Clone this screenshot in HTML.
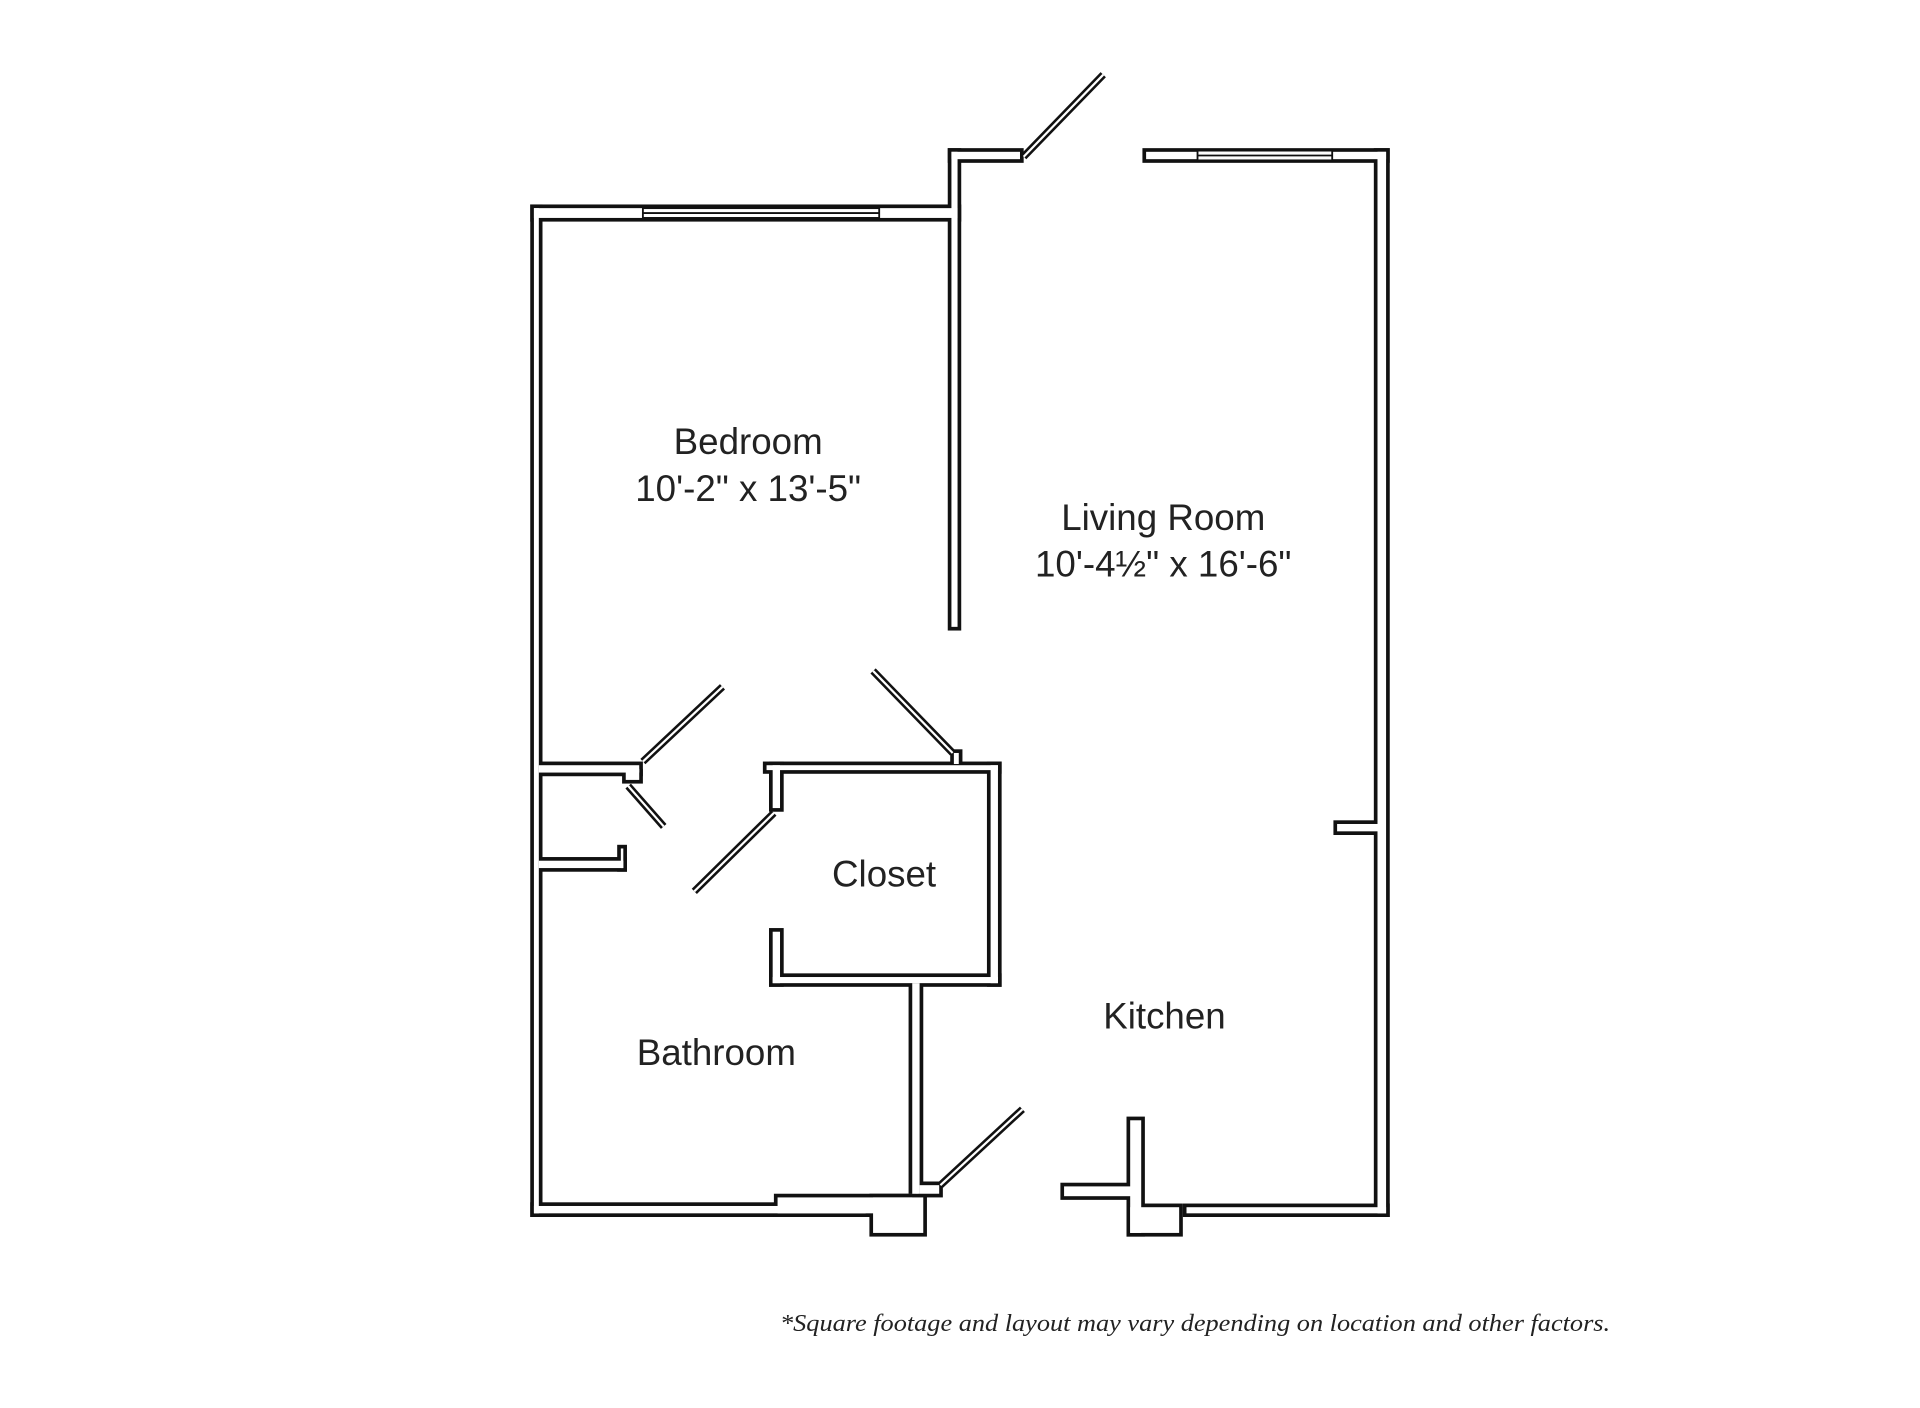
<!DOCTYPE html>
<html><head><meta charset="utf-8"><style>
html,body{margin:0;padding:0;background:#fff;}
svg{display:block;}
text{font-family:"Liberation Sans Narrow","Liberation Sans",sans-serif;fill:#222;}
</style></head><body>
<svg width="1920" height="1408" viewBox="0 0 1568 1150" xmlns="http://www.w3.org/2000/svg">
<rect width="1568" height="1150" fill="#fff"/>
<defs>
<g id="doors">
<line x1="525" y1="622" x2="590" y2="561"/>
<line x1="513" y1="642" x2="542" y2="675"/>
<line x1="567" y1="728" x2="632" y2="664"/>
<line x1="713" y1="548" x2="778" y2="615"/>
<line x1="768" y1="968" x2="835" y2="906"/>
<line x1="836" y1="128" x2="901" y2="61"/>
</g>
</defs>
<!-- black layer -->
<g fill="#111">
<rect x="433" y="167" width="10" height="827"/>
<rect x="433" y="167" width="352" height="14"/>
<rect x="774" y="121" width="11" height="394"/>
<rect x="774" y="121" width="62" height="12"/>
<rect x="933" y="121" width="202" height="12"/>
<rect x="1122" y="121" width="13" height="873"/>
<rect x="1089" y="670" width="36" height="12"/>
<rect x="966" y="983" width="169" height="11"/>
<rect x="920" y="912" width="15" height="98"/>
<rect x="920" y="983" width="46" height="27"/>
<rect x="866" y="966" width="61" height="14"/>
<rect x="433" y="982" width="277" height="12"/>
<rect x="632" y="975" width="116" height="19"/>
<rect x="742" y="800" width="12" height="175"/>
<rect x="710" y="975" width="47" height="35"/>
<rect x="750" y="965" width="20" height="13"/>
<rect x="623" y="622" width="195" height="10"/>
<rect x="628" y="622" width="12" height="41"/>
<rect x="806" y="622" width="12" height="184"/>
<rect x="628" y="795" width="190" height="11"/>
<rect x="628" y="758" width="12" height="48"/>
<rect x="776" y="612" width="10" height="12"/>
<rect x="438" y="622" width="87" height="12"/>
<rect x="508" y="628" width="17" height="12"/>
<rect x="438" y="700" width="74" height="12"/>
<rect x="504" y="690" width="8" height="22"/>
</g>
<!-- white layer (inset 3) -->
<g fill="#fff">
<rect x="436" y="170" width="4" height="821"/>
<rect x="436" y="170" width="346" height="8"/>
<rect x="777" y="124" width="5" height="388"/>
<rect x="777" y="124" width="56" height="6"/>
<rect x="936" y="124" width="196" height="6"/>
<rect x="1125" y="124" width="7" height="867"/>
<rect x="1092" y="673" width="36" height="6"/>
<rect x="969" y="986" width="163" height="5"/>
<rect x="923" y="915" width="9" height="92"/>
<rect x="923" y="986" width="40" height="21"/>
<rect x="869" y="969" width="58" height="8"/>
<rect x="436" y="985" width="271" height="6"/>
<rect x="635" y="978" width="110" height="13"/>
<rect x="745" y="803" width="6" height="172"/>
<rect x="713" y="978" width="41" height="29"/>
<rect x="751" y="968" width="16" height="7"/>
<rect x="626" y="625" width="189" height="4"/>
<rect x="631" y="625" width="6" height="35"/>
<rect x="809" y="625" width="6" height="178"/>
<rect x="631" y="798" width="184" height="5"/>
<rect x="631" y="761" width="6" height="42"/>
<rect x="779" y="615" width="4" height="9"/>
<rect x="440" y="625" width="82" height="6"/>
<rect x="511" y="628" width="11" height="9"/>
<rect x="440" y="703" width="69" height="6"/>
<rect x="507" y="693" width="2" height="16"/>
</g>
<!-- windows -->
<g stroke="#111" stroke-width="1.5">
<rect x="525" y="170" width="193" height="8" fill="#fff"/>
<line x1="525" y1="174" x2="718" y2="174"/>
<rect x="978" y="123" width="110" height="8" fill="#fff"/>
<line x1="978" y1="127" x2="1088" y2="127"/>
</g>
<g stroke="#111" stroke-width="6" stroke-linecap="butt"><use href="#doors"/></g>
<g stroke="#fff" stroke-width="1.8" stroke-linecap="butt"><use href="#doors"/></g>
<g font-size="30" text-anchor="middle">
<text x="611" y="371">Bedroom</text>
<text x="611" y="409">10'-2" x 13'-5"</text>
<text x="950" y="433">Living Room</text>
<text x="950" y="471">10'-4½" x 16'-6"</text>
<text x="722" y="724">Closet</text>
<text x="951" y="840">Kitchen</text>
<text x="585" y="870">Bathroom</text>
</g>
<text x="637" y="1087" textLength="678" lengthAdjust="spacingAndGlyphs" font-size="20" font-style="italic" style="font-family:'Liberation Serif',serif">*Square footage and layout may vary depending on location and other factors.</text>
</svg>
</body></html>
